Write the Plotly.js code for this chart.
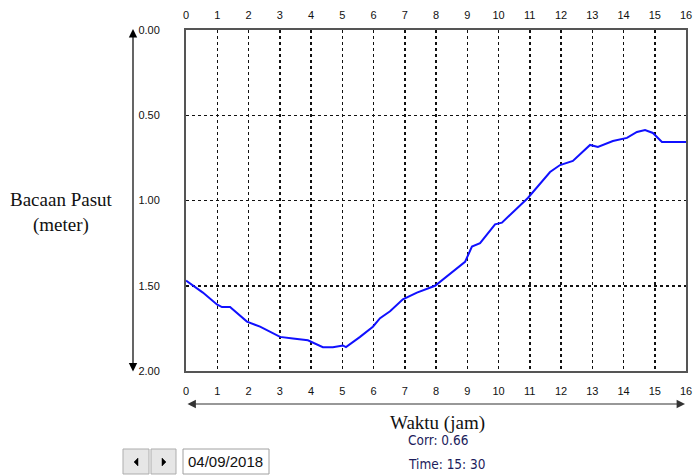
<!DOCTYPE html>
<html>
<head>
<meta charset="utf-8">
<script src="https://cdn.plot.ly/plotly-3.0.1.min.js"></script>
<style>html,body{margin:0;padding:0;background:#fff;}#chart{width:698px;height:475px;}</style>
</head>
<body>
<div id="chart"></div>
<script>
// Data (hours vs tide reading in metres)
const hours = [0.00, 0.54, 0.99, 1.15, 1.41, 1.95, 2.37, 3.01, 3.42, 3.90, 4.38, 4.70, 5.02, 5.12, 5.57, 5.98, 6.21, 6.53, 6.94, 7.39, 7.97, 8.93, 9.15, 9.41, 9.89, 10.11, 10.94, 11.65, 11.97, 12.38, 12.93, 13.18, 13.66, 14.11, 14.43, 14.69, 14.94, 15.23, 16.00];
const tide  = [1.47, 1.54, 1.61, 1.625, 1.625, 1.71, 1.74, 1.80, 1.81, 1.82, 1.86, 1.86, 1.85, 1.86, 1.80, 1.74, 1.69, 1.65, 1.58, 1.54, 1.50, 1.36, 1.27, 1.25, 1.14, 1.13, 0.985, 0.833, 0.792, 0.768, 0.674, 0.686, 0.651, 0.633, 0.598, 0.587, 0.604, 0.657, 0.657];
const xTicks = [0,1,2,3,4,5,6,7,8,9,10,11,12,13,14,15,16];
const yTicks = [0, 0.5, 1.0, 1.5, 2.0];
const yTickLabels = ["0.00", "0.50", "1.00", "1.50", "2.00"];
const yTitle = "Bacaan Pasut<br>(meter)";
const xTitle = "Waktu (jam)";
const corrText = "Corr: 0.66";
const timeText = "Time: 15: 30";
const dateText = "04/09/2018";

// plot area in pixels: left 186, right 686, top 30, bottom 371
const L = 186, R = 686, T = 30, B = 371;
const px = x => (x - L) / (R - L);
const py = y => (B - y) / (B - T);

const tickFont = {family: "Liberation Sans, Arial, sans-serif", size: 11, color: "#111"};

const traces = [
  {x: hours, y: tide, type: "scatter", mode: "lines", line: {color: "#1010ff", width: 2}, hoverinfo: "skip", showlegend: false},
  {x: hours, y: tide, xaxis: "x2", type: "scatter", mode: "lines", line: {color: "rgba(0,0,0,0)", width: 0}, hoverinfo: "skip", showlegend: false}
];

const layout = {
  width: 698, height: 475,
  margin: {l: L, r: 698 - R, t: T, b: 475 - B},
  paper_bgcolor: "#fff", plot_bgcolor: "#fff",
  showlegend: false,
  xaxis: {
    range: [0, 16], tickvals: xTicks, ticktext: xTicks.map(String),
    showgrid: true, gridcolor: "#111", gridwidth: 1.5, griddash: "3px,3px",
    zeroline: false, showline: true, linecolor: "#555", linewidth: 2, mirror: true,
    ticks: "", ticklabelstandoff: 9, tickfont: tickFont, fixedrange: true
  },
  xaxis2: {
    range: [0, 16], tickvals: xTicks, ticktext: xTicks.map(String),
    overlaying: "x", side: "top", anchor: "y", showgrid: false, zeroline: false,
    showline: false, ticks: "", ticklabelstandoff: 8, tickfont: tickFont, fixedrange: true
  },
  yaxis: {
    range: [2, 0], tickvals: yTicks, ticktext: yTickLabels,
    showgrid: true, gridcolor: "#111", gridwidth: 1.5, griddash: "3px,3px",
    zeroline: false, showline: true, linecolor: "#555", linewidth: 2, mirror: true,
    ticks: "", ticklabelstandoff: 22, tickfont: tickFont, fixedrange: true
  },
  shapes: [
    // buttons and date box
    {type: "rect", xref: "paper", yref: "paper", x0: px(123), x1: px(149), y0: py(474), y1: py(449), fillcolor: "#e6e6e6", line: {color: "#adadad", width: 1}},
    {type: "rect", xref: "paper", yref: "paper", x0: px(151), x1: px(176), y0: py(474), y1: py(449), fillcolor: "#e6e6e6", line: {color: "#adadad", width: 1}},
    {type: "rect", xref: "paper", yref: "paper", x0: px(183), x1: px(269), y0: py(474), y1: py(449), fillcolor: "#ffffff", line: {color: "#a0a0a0", width: 1}},
    {type: "path", xref: "paper", yref: "paper", path: `M ${px(138)} ${py(458)} L ${px(138)} ${py(466)} L ${px(134)} ${py(462)} Z`, fillcolor: "#000", line: {color: "#000", width: 0.5}},
    {type: "path", xref: "paper", yref: "paper", path: `M ${px(162)} ${py(458)} L ${px(162)} ${py(466)} L ${px(166)} ${py(462)} Z`, fillcolor: "#000", line: {color: "#000", width: 0.5}}
  ],
  annotations: [
    // vertical double arrow
    {xref: "paper", yref: "paper", axref: "paper", ayref: "paper", x: px(133), y: py(29), ax: px(133), ay: py(373), text: "", showarrow: true, arrowhead: 2, arrowside: "end+start", arrowsize: 1.4, arrowwidth: 1.2, arrowcolor: "#000"},
    // horizontal double arrow
    {xref: "paper", yref: "paper", axref: "paper", ayref: "paper", x: px(685), y: py(404), ax: px(186), ay: py(404), text: "", showarrow: true, arrowhead: 2, arrowside: "end+start", arrowsize: 1.4, arrowwidth: 1.2, arrowcolor: "#333"},
    {xref: "paper", yref: "paper", x: px(61), y: py(212), text: yTitle, showarrow: false, xanchor: "center", yanchor: "middle", align: "center",
      font: {family: "Liberation Serif, Times New Roman, serif", size: 19, color: "#111"}},
    {xref: "paper", yref: "paper", x: px(437), y: py(423), text: xTitle, showarrow: false, xanchor: "center", yanchor: "middle",
      font: {family: "Liberation Serif, Times New Roman, serif", size: 19, color: "#111"}},
    {xref: "paper", yref: "paper", x: px(406), y: py(440), text: corrText, showarrow: false, xanchor: "left", yanchor: "middle",
      font: {family: "DejaVu Sans Condensed, DejaVu Sans, sans-serif", size: 13.5, color: "#1c1c5c"}},
    {xref: "paper", yref: "paper", x: px(406), y: py(464), text: timeText, showarrow: false, xanchor: "left", yanchor: "middle",
      font: {family: "DejaVu Sans Condensed, DejaVu Sans, sans-serif", size: 13.5, color: "#1c1c5c"}},
    {xref: "paper", yref: "paper", x: px(186), y: py(461), text: dateText, showarrow: false, xanchor: "left", yanchor: "middle",
      font: {family: "Liberation Sans, Arial, sans-serif", size: 15, color: "#111"}}
  ]
};

Plotly.newPlot("chart", traces, layout, {staticPlot: true, displayModeBar: false});
</script>
</body>
</html>
